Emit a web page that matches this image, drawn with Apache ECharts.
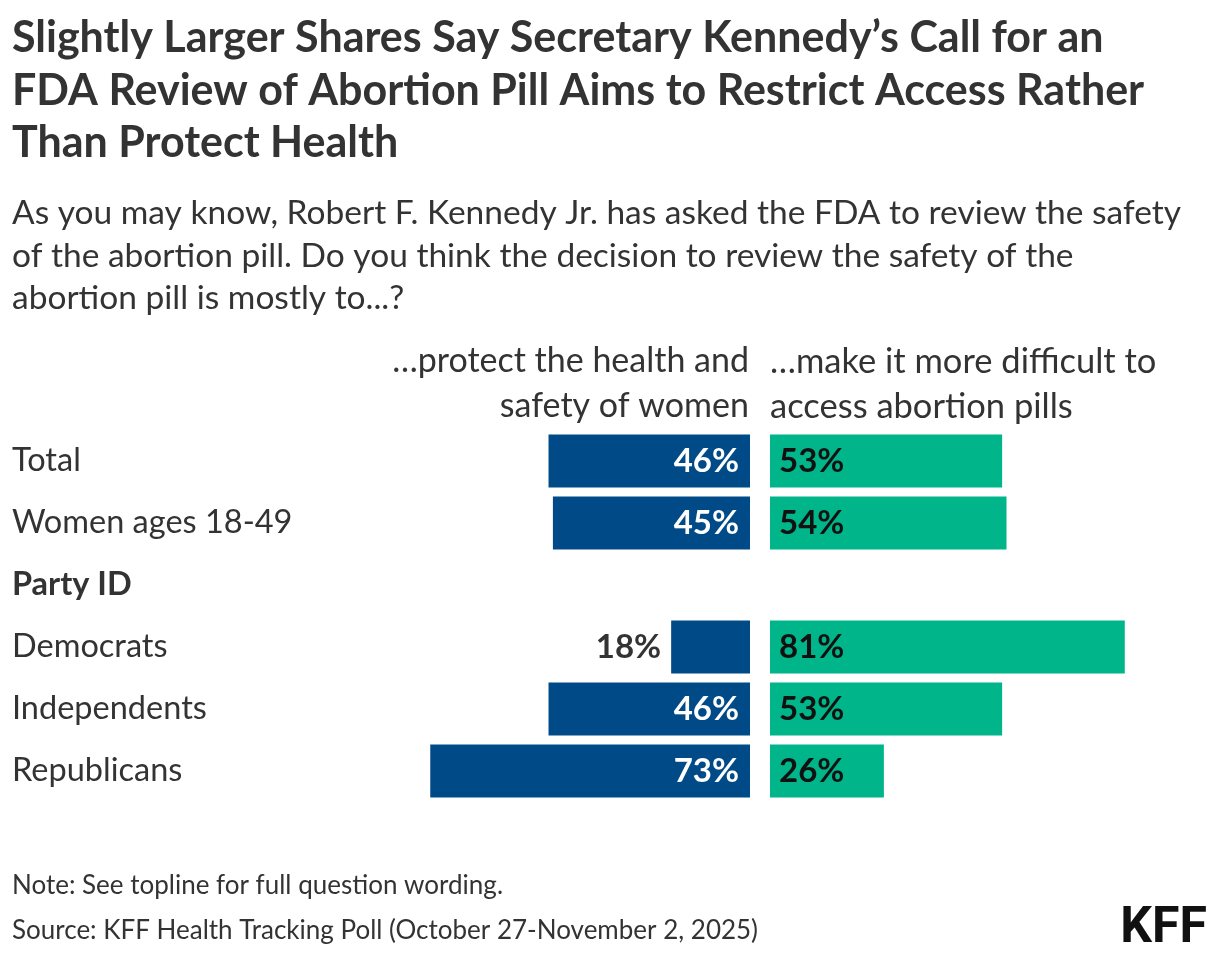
<!DOCTYPE html>
<html>
<head>
<meta charset="utf-8">
<script src="https://cdn.jsdelivr.net/npm/echarts@6/dist/echarts.min.js"></script>
<style>
html,body{margin:0;padding:0;background:#fff;}
#chart{width:1220px;height:958px;}
</style>
</head>
<body>
<div id="chart"></div>
<script>
const categories = ['Total', 'Women ages 18-49', 'Party ID', 'Democrats', 'Independents', 'Republicans'];
const protectHealth = [46, 45, null, 18, 46, 73];
const restrictAccess = [53, 54, null, 81, 53, 26];
const headerLeft = '\u2026protect the health and\nsafety of women';
const headerRight = '\u2026make it more difficult to\naccess abortion pills';
const titleText = 'Slightly Larger Shares Say Secretary Kennedy\u2019s Call for an\nFDA Review of Abortion Pill Aims to Restrict Access Rather\nThan Protect Health';
const subtitleText = 'As you may know, Robert F. Kennedy Jr. has asked the FDA to review the safety\nof the abortion pill. Do you think the decision to review the safety of the\nabortion pill is mostly to...?';
const noteText = 'Note: See topline for full question wording.';
const sourceText = 'Source: KFF Health Tracking Poll (October 27-November 2, 2025)';

const FONT = 'Lato, "Noto Sans", sans-serif';
const BLUE = '#004A87';
const GREEN = '#00B589';
const TXT = '#333333';

const chart = echarts.init(document.getElementById('chart'), null, {renderer: 'canvas'});

const leftData = protectHealth.map((v) => {
  if (v === null) return {value: null};
  if (v < 25) {
    return {value: v, label: {position: 'left', color: TXT, distance: 10}};
  }
  return {value: v};
});

chart.setOption({
  backgroundColor: '#ffffff',
  animation: false,
  textStyle: {fontFamily: FONT},
  title: [
    {text: titleText, left: 12, top: 12, padding: 0,
     textStyle: {fontFamily: FONT, fontSize: 43, fontWeight: 'bold', color: TXT, lineHeight: 52.5}},
    {text: subtitleText, left: 12, top: 192, padding: 0,
     textStyle: {fontFamily: FONT, fontSize: 33.5, fontWeight: 'normal', color: TXT, lineHeight: 42.5}},
    {text: noteText + '\n' + sourceText, left: 12, top: 863.5, padding: 0,
     textStyle: {fontFamily: FONT, fontSize: 26, fontWeight: 'normal', color: TXT, lineHeight: 45}},
    {text: 'KFF', right: 13, top: 904, padding: 0,
     textStyle: {fontFamily: '"Liberation Sans Narrow", "Roboto", sans-serif', fontSize: 50, fontWeight: 'bold', color: '#111111'}}
  ],
  graphic: [
    {type: 'text', x: 749, y: 339,
     style: {text: headerLeft, align: 'right', verticalAlign: 'top', fill: TXT,
       font: 'normal 34px ' + FONT, lineHeight: 45}},
    {type: 'text', x: 770, y: 339,
     style: {text: headerRight, align: 'left', verticalAlign: 'top', fill: TXT,
       font: 'normal 34.5px ' + FONT, lineHeight: 45}}
  ],
  grid: [
    {left: 312, width: 438, top: 430, height: 372, containLabel: false},
    {left: 770, width: 438, top: 430, height: 372, containLabel: false}
  ],
  xAxis: [
    {gridIndex: 0, type: 'value', min: 0, max: 100, inverse: true, show: false},
    {gridIndex: 1, type: 'value', min: 0, max: 100, show: false}
  ],
  yAxis: [
    {gridIndex: 0, type: 'category', data: categories, inverse: true, position: 'left',
     axisLine: {show: false}, axisTick: {show: false}, splitLine: {show: false},
     axisLabel: {
       margin: 300, align: 'left', fontFamily: FONT, fontSize: 32.5, color: TXT,
       formatter: function (v) { return v === 'Party ID' ? '{b|' + v + '}' : v; },
       rich: {b: {fontFamily: FONT, fontSize: 32.5, fontWeight: 'bold', color: TXT}}
     }},
    {gridIndex: 1, type: 'category', data: categories, inverse: true, show: false}
  ],
  series: [
    {type: 'bar', name: 'protect', xAxisIndex: 0, yAxisIndex: 0, data: leftData,
     barWidth: 53, itemStyle: {color: BLUE},
     label: {show: true, position: 'insideRight', distance: 11, color: '#ffffff',
       fontFamily: FONT, fontSize: 33, fontWeight: 'bold', formatter: '{c}%'}},
    {type: 'bar', name: 'restrict', xAxisIndex: 1, yAxisIndex: 1, data: restrictAccess,
     barWidth: 53, itemStyle: {color: GREEN},
     label: {show: true, position: 'insideLeft', distance: 9, color: '#111111',
       fontFamily: FONT, fontSize: 33, fontWeight: 'bold', formatter: '{c}%'}}
  ]
});
</script>
</body>
</html>
